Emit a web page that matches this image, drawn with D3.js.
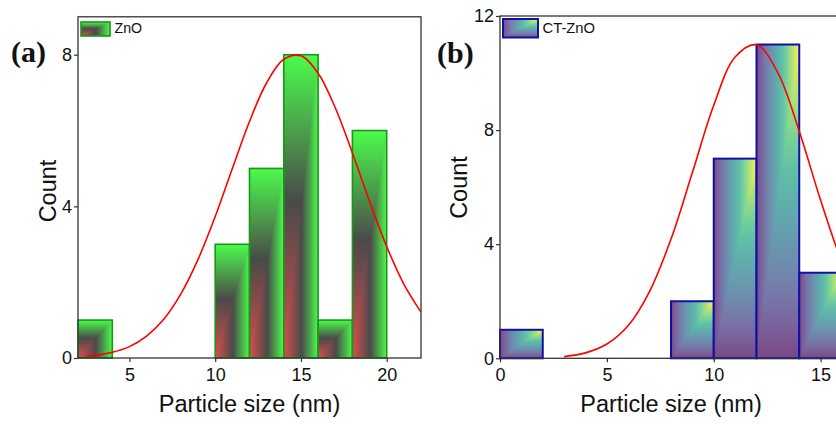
<!DOCTYPE html>
<html>
<head>
<meta charset="utf-8">
<script src="https://cdn.jsdelivr.net/npm/d3@7"></script>
<style>
  body { margin: 0; background: #fff; }
  svg { display: block; font-family: "Liberation Sans", Arial, sans-serif; }
</style>
</head>
<body>
<svg id="chart" width="836" height="424"></svg>
<script>
// panel (a) ZnO histogram, bin width 2 nm
var zno_bin_start = [2, 4, 6, 8, 10, 12, 14, 16, 18, 20];
var zno_count = [1, 0, 0, 0, 3, 5, 8, 1, 6, 0];
// fitted curve (a)
var zno_fit_x = [2.5, 3, 4, 5, 6, 7, 8, 9, 10, 11, 12, 13, 14, 15, 16, 17, 18, 19, 20, 21, 22];
var zno_fit_y = [0.045, 0.07, 0.15, 0.30, 0.58, 1.02, 1.69, 2.60, 3.73, 5.00, 6.24, 7.26, 7.88, 7.97, 7.51, 6.60, 5.41, 4.13, 2.94, 1.95, 1.21];

// panel (b) CT-ZnO histogram
var ct_bin_start = [0, 2, 4, 6, 8, 10, 12, 14];
var ct_count = [1, 0, 0, 0, 2, 7, 11, 3];
var ct_fit_x = [3, 4, 5, 6, 7, 8, 9, 10, 11, 12, 13, 14, 15, 16, 17, 18, 19, 20];
var ct_fit_y = [0.06, 0.19, 0.50, 1.15, 2.35, 4.18, 6.51, 8.87, 10.56, 10.99, 10.01, 7.96, 5.54, 3.37, 1.80, 0.84, 0.34, 0.12];

var bin_width = 2;

var svg = d3.select("#chart");
var defs = svg.append("defs");

function add_gradient(id, horizontal, stops) {
  var g = defs.append("linearGradient")
    .attr("id", id)
    .attr("x1", 0).attr("y1", horizontal ? 0 : 1)
    .attr("x2", horizontal ? 1 : 0).attr("y2", 0);
  stops.forEach(function(s) {
    g.append("stop").attr("offset", s[0]).attr("stop-color", s[1]);
  });
}

var green_stops = [[0, "#dc4d4d"], [0.52, "#4a4a4a"], [1, "#4cfc4c"]];
var viridis_stops = d3.range(0, 1.0001, 0.1).map(function(t) {
  return [t, d3.interpolateRgb("#ffffff", d3.interpolateViridis(t))(0.72)];
});
add_gradient("g_h", true, green_stops);
add_gradient("g_v", false, green_stops);
add_gradient("v_h", true, viridis_stops);
add_gradient("v_v", false, viridis_stops);

// corner shading: base rect with one gradient, upper-left triangle with the other
function shaded_box(layer, x0, y0, x1, y1, base_fill, tri_fill, stroke, stroke_w) {
  layer.append("rect")
    .attr("x", x0).attr("y", y0)
    .attr("width", x1 - x0).attr("height", y1 - y0)
    .attr("fill", base_fill);
  layer.append("path")
    .attr("d", "M" + x0 + "," + y1 + "L" + x0 + "," + y0 + "L" + x1 + "," + y0 + "Z")
    .attr("fill", tri_fill);
  layer.append("rect")
    .attr("x", x0).attr("y", y0)
    .attr("width", x1 - x0).attr("height", y1 - y0)
    .attr("fill", "none")
    .attr("stroke", stroke)
    .attr("stroke-width", stroke_w);
}

function draw_panel(p) {
  var x = d3.scaleLinear().domain(p.xdom).range(p.xrange);
  var y = d3.scaleLinear().domain(p.ydom).range(p.yrange);
  var g = svg.append("g");

  var clip_id = "clip_" + p.name;
  defs.append("clipPath").attr("id", clip_id)
    .append("rect")
    .attr("x", p.xrange[0]).attr("y", p.yrange[1])
    .attr("width", p.xrange[1] - p.xrange[0])
    .attr("height", p.yrange[0] - p.yrange[1]);

  var bars = g.append("g").attr("class", "bars");
  p.bins.forEach(function(b, i) {
    if (p.counts[i] <= 0) return;
    shaded_box(bars, x(b), y(p.counts[i]), x(b + bin_width), y(0),
      p.base_fill, p.tri_fill, p.stroke, p.stroke_w);
  });

  var line = d3.line()
    .x(function(d) { return x(d[0]); })
    .y(function(d) { return y(d[1]); })
    .curve(d3.curveCatmullRom);
  g.append("path")
    .attr("clip-path", "url(#" + clip_id + ")")
    .attr("d", line(d3.zip(p.fit_x, p.fit_y)))
    .attr("fill", "none")
    .attr("stroke", "#ff0000")
    .attr("stroke-width", 1.6);

  // frame
  g.append("rect")
    .attr("x", p.xrange[0]).attr("y", p.yrange[1])
    .attr("width", p.xrange[1] - p.xrange[0])
    .attr("height", p.yrange[0] - p.yrange[1])
    .attr("fill", "none")
    .attr("stroke", "#333")
    .attr("stroke-width", 1.3);

  var xa = g.append("g").attr("transform", "translate(0," + p.yrange[0] + ")");
  xa.call(d3.axisBottom(x).tickValues(p.minor_x).tickSize(2.5).tickFormat(""));
  xa.call(d3.axisBottom(x).tickValues(p.major_x).tickSize(4).tickPadding(6).tickFormat(d3.format("d")));
  var ya = g.append("g").attr("transform", "translate(" + p.xrange[0] + ",0)");
  ya.call(d3.axisLeft(y).tickValues(p.minor_y).tickSize(2.5).tickFormat(""));
  ya.call(d3.axisLeft(y).tickValues(p.major_y).tickSize(4).tickPadding(2).tickFormat(d3.format("d")));
  g.selectAll(".domain").remove();
  g.selectAll(".tick line").attr("stroke", "#333").attr("stroke-width", 1.2);
  g.selectAll(".tick text")
    .attr("font-family", "Liberation Sans, Arial, sans-serif")
    .attr("font-size", 18)
    .attr("fill", "#111");

  g.append("text")
    .attr("x", (p.xrange[0] + p.xrange[1]) / 2)
    .attr("y", 412)
    .attr("text-anchor", "middle")
    .attr("font-size", 23.5)
    .attr("fill", "#111")
    .text("Particle size (nm)");
  g.append("text")
    .attr("transform", "translate(" + p.ylab_x + "," + p.ylab_y + ") rotate(-90)")
    .attr("text-anchor", "middle")
    .attr("font-size", 23.5)
    .attr("fill", "#111")
    .text("Count");

  g.append("text")
    .attr("x", p.tag_x).attr("y", p.tag_y)
    .attr("font-family", "Liberation Serif, Times New Roman, serif")
    .attr("font-weight", "bold")
    .attr("font-size", 30)
    .attr("fill", "#111")
    .text(p.tag);

  var leg = g.append("g");
  shaded_box(leg, p.leg[0], p.leg[1], p.leg[2], p.leg[3],
    p.base_fill, p.tri_fill, p.stroke, p.stroke_w);
  leg.append("text")
    .attr("x", p.leg[2] + 4.5).attr("y", 33.3)
    .attr("font-size", p.leg_font)
    .attr("fill", "#111")
    .text(p.name_label);
}

draw_panel({
  name: "a", name_label: "ZnO", tag: "(a)", tag_x: 11, tag_y: 62,
  xdom: [2, 22], xrange: [78, 421],
  ydom: [0, 9], yrange: [358, 16.8],
  bins: zno_bin_start, counts: zno_count,
  fit_x: zno_fit_x, fit_y: zno_fit_y,
  major_x: [5, 10, 15, 20], minor_x: [2.5, 7.5, 12.5, 17.5],
  major_y: [0, 4, 8], minor_y: [2, 6],
  base_fill: "url(#g_h)", tri_fill: "url(#g_v)",
  stroke: "#169a16", stroke_w: 1.6,
  ylab_x: 55.5, ylab_y: 191,
  leg: [81, 22, 110, 36], leg_font: 14.2
});

draw_panel({
  name: "b", name_label: "CT-ZnO", tag: "(b)", tag_x: 437, tag_y: 63,
  xdom: [0, 16], xrange: [500, 842],
  ydom: [0, 12], yrange: [358.3, 16],
  bins: ct_bin_start, counts: ct_count,
  fit_x: ct_fit_x, fit_y: ct_fit_y,
  major_x: [0, 5, 10, 15], minor_x: [2.5, 7.5, 12.5],
  major_y: [0, 4, 8, 12], minor_y: [2, 6, 10],
  base_fill: "url(#v_v)", tri_fill: "url(#v_h)",
  stroke: "#1010a8", stroke_w: 2,
  ylab_x: 466.5, ylab_y: 187.5,
  leg: [503, 19, 538, 37.5], leg_font: 14.8
});
</script>
</body>
</html>
